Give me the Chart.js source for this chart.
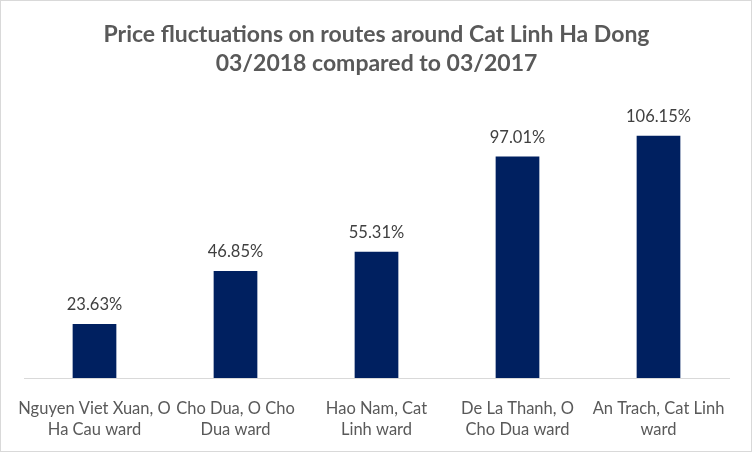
<!DOCTYPE html>
<html>
<head>
<meta charset="utf-8">
<script src="https://cdn.jsdelivr.net/npm/chart.js@4/dist/chart.umd.min.js"></script>
<style>
  html, body { margin: 0; padding: 0; background: #fff; }
  #wrap { width: 750px; height: 450px; border: 1px solid #d9d9d9; }
  canvas { display: block; }
</style>
</head>
<body>
<div id="wrap"><canvas id="c" width="750" height="450"></canvas></div>
<script>
const titleLines = ["Price fluctuations on routes around Cat Linh Ha Dong", "03/2018 compared to 03/2017"];
const categories = [
  ["Nguyen Viet Xuan, O", "Ha Cau ward"],
  ["Cho Dua, O Cho", "Dua ward"],
  ["Hao Nam, Cat", "Linh ward"],
  ["De La Thanh, O", "Cho Dua ward"],
  ["An Trach, Cat Linh", "ward"]
];
const values = [23.63, 46.85, 55.31, 97.01, 106.15];
const valueLabels = ["23.63%", "46.85%", "55.31%", "97.01%", "106.15%"];

const FONT = "Lato, 'Open Sans', sans-serif";

const labelPlugin = {
  id: 'valueLabels',
  afterDatasetsDraw(chart) {
    const ctx = chart.ctx;
    const meta = chart.getDatasetMeta(0);
    ctx.save();
    ctx.font = "16.5px " + FONT;
    ctx.fillStyle = "#404040";
    ctx.textAlign = "center";
    ctx.textBaseline = "bottom";
    meta.data.forEach((bar, i) => {
      ctx.fillText(valueLabels[i], bar.x, bar.y - 11);
    });
    ctx.restore();
  }
};

new Chart(document.getElementById('c'), {
  type: 'bar',
  data: {
    labels: categories,
    datasets: [{
      data: values,
      backgroundColor: '#002060',
      borderWidth: 0,
      categoryPercentage: 1.0,
      barPercentage: 0.31
    }]
  },
  options: {
    responsive: false,
    animation: false,
    layout: { padding: { left: 23, right: 22, top: 0, bottom: 0 } },
    plugins: {
      legend: { display: false },
      tooltip: { enabled: false },
      title: {
        display: true,
        text: titleLines,
        color: '#595959',
        font: { family: FONT, size: 23, weight: 'bold', lineHeight: 1.22 },
        padding: { top: 20, bottom: 27 }
      }
    },
    scales: {
      x: {
        grid: { display: false, drawTicks: false },
        border: { display: true, color: '#d9d9d9', width: 1 },
        ticks: {
          color: '#595959',
          font: { family: FONT, size: 16.5, lineHeight: 1.22 },
          maxRotation: 0,
          minRotation: 0,
          autoSkip: false,
          padding: 21
        },
        afterFit(scale) {
          scale.height = 73;
          scale.paddingLeft = 0;
          scale.paddingRight = 0;
        }
      },
      y: {
        display: false,
        min: 0,
        max: 120
      }
    }
  },
  plugins: [labelPlugin]
});
</script>
</body>
</html>
